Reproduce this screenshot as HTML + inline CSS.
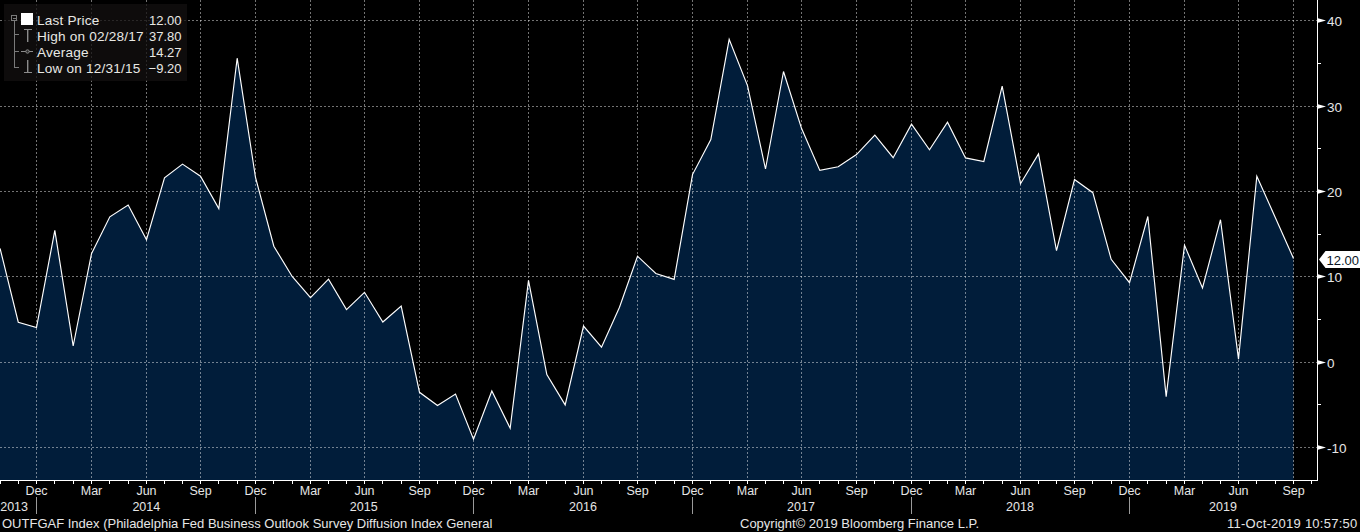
<!DOCTYPE html><html><head><meta charset="utf-8"><style>html,body{margin:0;padding:0;background:#000;width:1360px;height:532px;overflow:hidden}svg{display:block}text{font-family:"Liberation Sans",sans-serif}</style></head><body>
<svg width="1360" height="532" viewBox="0 0 1360 532">
<polygon points="-0.93,480 0.07,248.40 18.28,322.20 36.50,327.50 54.83,230.30 73.17,346.00 91.50,253.70 109.83,216.80 128.17,205.10 146.50,239.70 164.50,177.80 182.50,164.10 200.50,176.20 218.83,208.60 237.17,58.20 255.50,177.50 273.83,246.20 292.17,276.50 310.50,297.60 328.50,279.20 346.50,309.60 364.50,292.30 382.83,322.00 401.17,306.10 419.50,392.30 437.50,405.50 455.50,394.00 473.50,439.20 491.83,391.00 510.17,428.20 528.50,280.40 546.83,374.60 565.17,404.90 583.50,326.10 601.50,347.20 619.50,307.30 637.50,256.20 655.83,273.50 674.17,279.40 692.50,174.60 710.83,139.50 729.17,39.40 747.50,85.60 765.50,169.00 783.50,71.50 801.50,128.30 819.83,170.40 838.17,166.80 856.50,154.60 874.83,135.20 893.17,157.70 911.50,124.10 929.50,149.80 947.50,122.20 965.50,157.90 983.83,161.50 1002.17,86.20 1020.50,183.70 1038.50,153.90 1056.50,250.70 1074.50,179.50 1092.83,192.70 1111.17,259.30 1129.50,282.70 1147.83,216.50 1166.17,396.60 1184.50,245.10 1202.50,288.00 1220.50,219.70 1238.50,359.10 1256.83,176.20 1275.17,217.30 1293.50,258.40 1293.50,480" fill="#011d3a"/>
<line x1="0" y1="20.5" x2="1317" y2="20.5" stroke="#ffffff" stroke-opacity="0.45" stroke-width="1" stroke-dasharray="2,2" shape-rendering="crispEdges"/>
<line x1="0" y1="106.5" x2="1317" y2="106.5" stroke="#ffffff" stroke-opacity="0.45" stroke-width="1" stroke-dasharray="2,2" shape-rendering="crispEdges"/>
<line x1="0" y1="191.5" x2="1317" y2="191.5" stroke="#ffffff" stroke-opacity="0.45" stroke-width="1" stroke-dasharray="2,2" shape-rendering="crispEdges"/>
<line x1="0" y1="276.5" x2="1317" y2="276.5" stroke="#ffffff" stroke-opacity="0.45" stroke-width="1" stroke-dasharray="2,2" shape-rendering="crispEdges"/>
<line x1="0" y1="362.5" x2="1317" y2="362.5" stroke="#ffffff" stroke-opacity="0.45" stroke-width="1" stroke-dasharray="2,2" shape-rendering="crispEdges"/>
<line x1="0" y1="447.5" x2="1317" y2="447.5" stroke="#ffffff" stroke-opacity="0.45" stroke-width="1" stroke-dasharray="2,2" shape-rendering="crispEdges"/>
<line x1="36.5" y1="0" x2="36.5" y2="480" stroke="#ffffff" stroke-opacity="0.45" stroke-width="1" stroke-dasharray="2,2" shape-rendering="crispEdges"/>
<line x1="91.5" y1="0" x2="91.5" y2="480" stroke="#ffffff" stroke-opacity="0.45" stroke-width="1" stroke-dasharray="2,2" shape-rendering="crispEdges"/>
<line x1="146.5" y1="0" x2="146.5" y2="480" stroke="#ffffff" stroke-opacity="0.45" stroke-width="1" stroke-dasharray="2,2" shape-rendering="crispEdges"/>
<line x1="200.5" y1="0" x2="200.5" y2="480" stroke="#ffffff" stroke-opacity="0.45" stroke-width="1" stroke-dasharray="2,2" shape-rendering="crispEdges"/>
<line x1="255.5" y1="0" x2="255.5" y2="480" stroke="#ffffff" stroke-opacity="0.45" stroke-width="1" stroke-dasharray="2,2" shape-rendering="crispEdges"/>
<line x1="310.5" y1="0" x2="310.5" y2="480" stroke="#ffffff" stroke-opacity="0.45" stroke-width="1" stroke-dasharray="2,2" shape-rendering="crispEdges"/>
<line x1="364.5" y1="0" x2="364.5" y2="480" stroke="#ffffff" stroke-opacity="0.45" stroke-width="1" stroke-dasharray="2,2" shape-rendering="crispEdges"/>
<line x1="419.5" y1="0" x2="419.5" y2="480" stroke="#ffffff" stroke-opacity="0.45" stroke-width="1" stroke-dasharray="2,2" shape-rendering="crispEdges"/>
<line x1="473.5" y1="0" x2="473.5" y2="480" stroke="#ffffff" stroke-opacity="0.45" stroke-width="1" stroke-dasharray="2,2" shape-rendering="crispEdges"/>
<line x1="528.5" y1="0" x2="528.5" y2="480" stroke="#ffffff" stroke-opacity="0.45" stroke-width="1" stroke-dasharray="2,2" shape-rendering="crispEdges"/>
<line x1="583.5" y1="0" x2="583.5" y2="480" stroke="#ffffff" stroke-opacity="0.45" stroke-width="1" stroke-dasharray="2,2" shape-rendering="crispEdges"/>
<line x1="637.5" y1="0" x2="637.5" y2="480" stroke="#ffffff" stroke-opacity="0.45" stroke-width="1" stroke-dasharray="2,2" shape-rendering="crispEdges"/>
<line x1="692.5" y1="0" x2="692.5" y2="480" stroke="#ffffff" stroke-opacity="0.45" stroke-width="1" stroke-dasharray="2,2" shape-rendering="crispEdges"/>
<line x1="747.5" y1="0" x2="747.5" y2="480" stroke="#ffffff" stroke-opacity="0.45" stroke-width="1" stroke-dasharray="2,2" shape-rendering="crispEdges"/>
<line x1="801.5" y1="0" x2="801.5" y2="480" stroke="#ffffff" stroke-opacity="0.45" stroke-width="1" stroke-dasharray="2,2" shape-rendering="crispEdges"/>
<line x1="856.5" y1="0" x2="856.5" y2="480" stroke="#ffffff" stroke-opacity="0.45" stroke-width="1" stroke-dasharray="2,2" shape-rendering="crispEdges"/>
<line x1="911.5" y1="0" x2="911.5" y2="480" stroke="#ffffff" stroke-opacity="0.45" stroke-width="1" stroke-dasharray="2,2" shape-rendering="crispEdges"/>
<line x1="965.5" y1="0" x2="965.5" y2="480" stroke="#ffffff" stroke-opacity="0.45" stroke-width="1" stroke-dasharray="2,2" shape-rendering="crispEdges"/>
<line x1="1020.5" y1="0" x2="1020.5" y2="480" stroke="#ffffff" stroke-opacity="0.45" stroke-width="1" stroke-dasharray="2,2" shape-rendering="crispEdges"/>
<line x1="1074.5" y1="0" x2="1074.5" y2="480" stroke="#ffffff" stroke-opacity="0.45" stroke-width="1" stroke-dasharray="2,2" shape-rendering="crispEdges"/>
<line x1="1129.5" y1="0" x2="1129.5" y2="480" stroke="#ffffff" stroke-opacity="0.45" stroke-width="1" stroke-dasharray="2,2" shape-rendering="crispEdges"/>
<line x1="1184.5" y1="0" x2="1184.5" y2="480" stroke="#ffffff" stroke-opacity="0.45" stroke-width="1" stroke-dasharray="2,2" shape-rendering="crispEdges"/>
<line x1="1238.5" y1="0" x2="1238.5" y2="480" stroke="#ffffff" stroke-opacity="0.45" stroke-width="1" stroke-dasharray="2,2" shape-rendering="crispEdges"/>
<line x1="1293.5" y1="0" x2="1293.5" y2="480" stroke="#ffffff" stroke-opacity="0.45" stroke-width="1" stroke-dasharray="2,2" shape-rendering="crispEdges"/>
<polyline points="0.07,248.40 18.28,322.20 36.50,327.50 54.83,230.30 73.17,346.00 91.50,253.70 109.83,216.80 128.17,205.10 146.50,239.70 164.50,177.80 182.50,164.10 200.50,176.20 218.83,208.60 237.17,58.20 255.50,177.50 273.83,246.20 292.17,276.50 310.50,297.60 328.50,279.20 346.50,309.60 364.50,292.30 382.83,322.00 401.17,306.10 419.50,392.30 437.50,405.50 455.50,394.00 473.50,439.20 491.83,391.00 510.17,428.20 528.50,280.40 546.83,374.60 565.17,404.90 583.50,326.10 601.50,347.20 619.50,307.30 637.50,256.20 655.83,273.50 674.17,279.40 692.50,174.60 710.83,139.50 729.17,39.40 747.50,85.60 765.50,169.00 783.50,71.50 801.50,128.30 819.83,170.40 838.17,166.80 856.50,154.60 874.83,135.20 893.17,157.70 911.50,124.10 929.50,149.80 947.50,122.20 965.50,157.90 983.83,161.50 1002.17,86.20 1020.50,183.70 1038.50,153.90 1056.50,250.70 1074.50,179.50 1092.83,192.70 1111.17,259.30 1129.50,282.70 1147.83,216.50 1166.17,396.60 1184.50,245.10 1202.50,288.00 1220.50,219.70 1238.50,359.10 1256.83,176.20 1275.17,217.30 1293.50,258.40" fill="none" stroke="#ffffff" stroke-width="1.15" stroke-linejoin="miter"/>
<line x1="0" y1="480.5" x2="1318" y2="480.5" stroke="#fff" stroke-width="1" shape-rendering="crispEdges"/>
<line x1="1317.5" y1="0" x2="1317.5" y2="481" stroke="#fff" stroke-width="1" shape-rendering="crispEdges"/>
<line x1="0.5" y1="481" x2="0.5" y2="484" stroke="#fff" stroke-width="1" shape-rendering="crispEdges"/>
<line x1="18.5" y1="481" x2="18.5" y2="484" stroke="#fff" stroke-width="1" shape-rendering="crispEdges"/>
<line x1="36.5" y1="481" x2="36.5" y2="484" stroke="#fff" stroke-width="1" shape-rendering="crispEdges"/>
<line x1="54.5" y1="481" x2="54.5" y2="484" stroke="#fff" stroke-width="1" shape-rendering="crispEdges"/>
<line x1="73.5" y1="481" x2="73.5" y2="484" stroke="#fff" stroke-width="1" shape-rendering="crispEdges"/>
<line x1="91.5" y1="481" x2="91.5" y2="484" stroke="#fff" stroke-width="1" shape-rendering="crispEdges"/>
<line x1="109.5" y1="481" x2="109.5" y2="484" stroke="#fff" stroke-width="1" shape-rendering="crispEdges"/>
<line x1="128.5" y1="481" x2="128.5" y2="484" stroke="#fff" stroke-width="1" shape-rendering="crispEdges"/>
<line x1="146.5" y1="481" x2="146.5" y2="484" stroke="#fff" stroke-width="1" shape-rendering="crispEdges"/>
<line x1="164.5" y1="481" x2="164.5" y2="484" stroke="#fff" stroke-width="1" shape-rendering="crispEdges"/>
<line x1="182.5" y1="481" x2="182.5" y2="484" stroke="#fff" stroke-width="1" shape-rendering="crispEdges"/>
<line x1="200.5" y1="481" x2="200.5" y2="484" stroke="#fff" stroke-width="1" shape-rendering="crispEdges"/>
<line x1="218.5" y1="481" x2="218.5" y2="484" stroke="#fff" stroke-width="1" shape-rendering="crispEdges"/>
<line x1="237.5" y1="481" x2="237.5" y2="484" stroke="#fff" stroke-width="1" shape-rendering="crispEdges"/>
<line x1="255.5" y1="481" x2="255.5" y2="484" stroke="#fff" stroke-width="1" shape-rendering="crispEdges"/>
<line x1="273.5" y1="481" x2="273.5" y2="484" stroke="#fff" stroke-width="1" shape-rendering="crispEdges"/>
<line x1="292.5" y1="481" x2="292.5" y2="484" stroke="#fff" stroke-width="1" shape-rendering="crispEdges"/>
<line x1="310.5" y1="481" x2="310.5" y2="484" stroke="#fff" stroke-width="1" shape-rendering="crispEdges"/>
<line x1="328.5" y1="481" x2="328.5" y2="484" stroke="#fff" stroke-width="1" shape-rendering="crispEdges"/>
<line x1="346.5" y1="481" x2="346.5" y2="484" stroke="#fff" stroke-width="1" shape-rendering="crispEdges"/>
<line x1="364.5" y1="481" x2="364.5" y2="484" stroke="#fff" stroke-width="1" shape-rendering="crispEdges"/>
<line x1="382.5" y1="481" x2="382.5" y2="484" stroke="#fff" stroke-width="1" shape-rendering="crispEdges"/>
<line x1="401.5" y1="481" x2="401.5" y2="484" stroke="#fff" stroke-width="1" shape-rendering="crispEdges"/>
<line x1="419.5" y1="481" x2="419.5" y2="484" stroke="#fff" stroke-width="1" shape-rendering="crispEdges"/>
<line x1="437.5" y1="481" x2="437.5" y2="484" stroke="#fff" stroke-width="1" shape-rendering="crispEdges"/>
<line x1="455.5" y1="481" x2="455.5" y2="484" stroke="#fff" stroke-width="1" shape-rendering="crispEdges"/>
<line x1="473.5" y1="481" x2="473.5" y2="484" stroke="#fff" stroke-width="1" shape-rendering="crispEdges"/>
<line x1="491.5" y1="481" x2="491.5" y2="484" stroke="#fff" stroke-width="1" shape-rendering="crispEdges"/>
<line x1="510.5" y1="481" x2="510.5" y2="484" stroke="#fff" stroke-width="1" shape-rendering="crispEdges"/>
<line x1="528.5" y1="481" x2="528.5" y2="484" stroke="#fff" stroke-width="1" shape-rendering="crispEdges"/>
<line x1="546.5" y1="481" x2="546.5" y2="484" stroke="#fff" stroke-width="1" shape-rendering="crispEdges"/>
<line x1="565.5" y1="481" x2="565.5" y2="484" stroke="#fff" stroke-width="1" shape-rendering="crispEdges"/>
<line x1="583.5" y1="481" x2="583.5" y2="484" stroke="#fff" stroke-width="1" shape-rendering="crispEdges"/>
<line x1="601.5" y1="481" x2="601.5" y2="484" stroke="#fff" stroke-width="1" shape-rendering="crispEdges"/>
<line x1="619.5" y1="481" x2="619.5" y2="484" stroke="#fff" stroke-width="1" shape-rendering="crispEdges"/>
<line x1="637.5" y1="481" x2="637.5" y2="484" stroke="#fff" stroke-width="1" shape-rendering="crispEdges"/>
<line x1="655.5" y1="481" x2="655.5" y2="484" stroke="#fff" stroke-width="1" shape-rendering="crispEdges"/>
<line x1="674.5" y1="481" x2="674.5" y2="484" stroke="#fff" stroke-width="1" shape-rendering="crispEdges"/>
<line x1="692.5" y1="481" x2="692.5" y2="484" stroke="#fff" stroke-width="1" shape-rendering="crispEdges"/>
<line x1="710.5" y1="481" x2="710.5" y2="484" stroke="#fff" stroke-width="1" shape-rendering="crispEdges"/>
<line x1="729.5" y1="481" x2="729.5" y2="484" stroke="#fff" stroke-width="1" shape-rendering="crispEdges"/>
<line x1="747.5" y1="481" x2="747.5" y2="484" stroke="#fff" stroke-width="1" shape-rendering="crispEdges"/>
<line x1="765.5" y1="481" x2="765.5" y2="484" stroke="#fff" stroke-width="1" shape-rendering="crispEdges"/>
<line x1="783.5" y1="481" x2="783.5" y2="484" stroke="#fff" stroke-width="1" shape-rendering="crispEdges"/>
<line x1="801.5" y1="481" x2="801.5" y2="484" stroke="#fff" stroke-width="1" shape-rendering="crispEdges"/>
<line x1="819.5" y1="481" x2="819.5" y2="484" stroke="#fff" stroke-width="1" shape-rendering="crispEdges"/>
<line x1="838.5" y1="481" x2="838.5" y2="484" stroke="#fff" stroke-width="1" shape-rendering="crispEdges"/>
<line x1="856.5" y1="481" x2="856.5" y2="484" stroke="#fff" stroke-width="1" shape-rendering="crispEdges"/>
<line x1="874.5" y1="481" x2="874.5" y2="484" stroke="#fff" stroke-width="1" shape-rendering="crispEdges"/>
<line x1="893.5" y1="481" x2="893.5" y2="484" stroke="#fff" stroke-width="1" shape-rendering="crispEdges"/>
<line x1="911.5" y1="481" x2="911.5" y2="484" stroke="#fff" stroke-width="1" shape-rendering="crispEdges"/>
<line x1="929.5" y1="481" x2="929.5" y2="484" stroke="#fff" stroke-width="1" shape-rendering="crispEdges"/>
<line x1="947.5" y1="481" x2="947.5" y2="484" stroke="#fff" stroke-width="1" shape-rendering="crispEdges"/>
<line x1="965.5" y1="481" x2="965.5" y2="484" stroke="#fff" stroke-width="1" shape-rendering="crispEdges"/>
<line x1="983.5" y1="481" x2="983.5" y2="484" stroke="#fff" stroke-width="1" shape-rendering="crispEdges"/>
<line x1="1002.5" y1="481" x2="1002.5" y2="484" stroke="#fff" stroke-width="1" shape-rendering="crispEdges"/>
<line x1="1020.5" y1="481" x2="1020.5" y2="484" stroke="#fff" stroke-width="1" shape-rendering="crispEdges"/>
<line x1="1038.5" y1="481" x2="1038.5" y2="484" stroke="#fff" stroke-width="1" shape-rendering="crispEdges"/>
<line x1="1056.5" y1="481" x2="1056.5" y2="484" stroke="#fff" stroke-width="1" shape-rendering="crispEdges"/>
<line x1="1074.5" y1="481" x2="1074.5" y2="484" stroke="#fff" stroke-width="1" shape-rendering="crispEdges"/>
<line x1="1092.5" y1="481" x2="1092.5" y2="484" stroke="#fff" stroke-width="1" shape-rendering="crispEdges"/>
<line x1="1111.5" y1="481" x2="1111.5" y2="484" stroke="#fff" stroke-width="1" shape-rendering="crispEdges"/>
<line x1="1129.5" y1="481" x2="1129.5" y2="484" stroke="#fff" stroke-width="1" shape-rendering="crispEdges"/>
<line x1="1147.5" y1="481" x2="1147.5" y2="484" stroke="#fff" stroke-width="1" shape-rendering="crispEdges"/>
<line x1="1166.5" y1="481" x2="1166.5" y2="484" stroke="#fff" stroke-width="1" shape-rendering="crispEdges"/>
<line x1="1184.5" y1="481" x2="1184.5" y2="484" stroke="#fff" stroke-width="1" shape-rendering="crispEdges"/>
<line x1="1202.5" y1="481" x2="1202.5" y2="484" stroke="#fff" stroke-width="1" shape-rendering="crispEdges"/>
<line x1="1220.5" y1="481" x2="1220.5" y2="484" stroke="#fff" stroke-width="1" shape-rendering="crispEdges"/>
<line x1="1238.5" y1="481" x2="1238.5" y2="484" stroke="#fff" stroke-width="1" shape-rendering="crispEdges"/>
<line x1="1256.5" y1="481" x2="1256.5" y2="484" stroke="#fff" stroke-width="1" shape-rendering="crispEdges"/>
<line x1="1275.5" y1="481" x2="1275.5" y2="484" stroke="#fff" stroke-width="1" shape-rendering="crispEdges"/>
<line x1="1293.5" y1="481" x2="1293.5" y2="484" stroke="#fff" stroke-width="1" shape-rendering="crispEdges"/>
<line x1="1311.5" y1="481" x2="1311.5" y2="484" stroke="#fff" stroke-width="1" shape-rendering="crispEdges"/>
<polygon points="1317,17.9 1326,20.5 1317,23.1" fill="#fff"/>
<text x="1327" y="25.9" font-size="13.5" fill="#e6e6e6">40</text>
<polygon points="1317,103.9 1326,106.5 1317,109.1" fill="#fff"/>
<text x="1327" y="111.9" font-size="13.5" fill="#e6e6e6">30</text>
<polygon points="1317,188.9 1326,191.5 1317,194.1" fill="#fff"/>
<text x="1327" y="196.9" font-size="13.5" fill="#e6e6e6">20</text>
<polygon points="1317,273.9 1326,276.5 1317,279.1" fill="#fff"/>
<text x="1327" y="281.9" font-size="13.5" fill="#e6e6e6">10</text>
<polygon points="1317,359.9 1326,362.5 1317,365.1" fill="#fff"/>
<text x="1327" y="367.9" font-size="13.5" fill="#e6e6e6">0</text>
<polygon points="1317,444.9 1326,447.5 1317,450.1" fill="#fff"/>
<text x="1327" y="452.9" font-size="13.5" fill="#e6e6e6">-10</text>
<line x1="1318" y1="63.5" x2="1321" y2="63.5" stroke="#fff" stroke-width="1" shape-rendering="crispEdges"/>
<line x1="1318" y1="148.5" x2="1321" y2="148.5" stroke="#fff" stroke-width="1" shape-rendering="crispEdges"/>
<line x1="1318" y1="234.5" x2="1321" y2="234.5" stroke="#fff" stroke-width="1" shape-rendering="crispEdges"/>
<line x1="1318" y1="319.5" x2="1321" y2="319.5" stroke="#fff" stroke-width="1" shape-rendering="crispEdges"/>
<line x1="1318" y1="404.5" x2="1321" y2="404.5" stroke="#fff" stroke-width="1" shape-rendering="crispEdges"/>
<polygon points="1319,259.5 1325.5,251 1360,251 1360,268 1325.5,268" fill="#fff"/>
<text x="1326.5" y="265" font-size="13" fill="#0a1626">12.00</text>
<text x="36.5" y="494.8" font-size="12.5" fill="#e6e6e6" text-anchor="middle">Dec</text>
<text x="91.5" y="494.8" font-size="12.5" fill="#e6e6e6" text-anchor="middle">Mar</text>
<text x="146.5" y="494.8" font-size="12.5" fill="#e6e6e6" text-anchor="middle">Jun</text>
<text x="200.5" y="494.8" font-size="12.5" fill="#e6e6e6" text-anchor="middle">Sep</text>
<text x="255.5" y="494.8" font-size="12.5" fill="#e6e6e6" text-anchor="middle">Dec</text>
<text x="310.5" y="494.8" font-size="12.5" fill="#e6e6e6" text-anchor="middle">Mar</text>
<text x="364.5" y="494.8" font-size="12.5" fill="#e6e6e6" text-anchor="middle">Jun</text>
<text x="419.5" y="494.8" font-size="12.5" fill="#e6e6e6" text-anchor="middle">Sep</text>
<text x="473.5" y="494.8" font-size="12.5" fill="#e6e6e6" text-anchor="middle">Dec</text>
<text x="528.5" y="494.8" font-size="12.5" fill="#e6e6e6" text-anchor="middle">Mar</text>
<text x="583.5" y="494.8" font-size="12.5" fill="#e6e6e6" text-anchor="middle">Jun</text>
<text x="637.5" y="494.8" font-size="12.5" fill="#e6e6e6" text-anchor="middle">Sep</text>
<text x="692.5" y="494.8" font-size="12.5" fill="#e6e6e6" text-anchor="middle">Dec</text>
<text x="747.5" y="494.8" font-size="12.5" fill="#e6e6e6" text-anchor="middle">Mar</text>
<text x="801.5" y="494.8" font-size="12.5" fill="#e6e6e6" text-anchor="middle">Jun</text>
<text x="856.5" y="494.8" font-size="12.5" fill="#e6e6e6" text-anchor="middle">Sep</text>
<text x="911.5" y="494.8" font-size="12.5" fill="#e6e6e6" text-anchor="middle">Dec</text>
<text x="965.5" y="494.8" font-size="12.5" fill="#e6e6e6" text-anchor="middle">Mar</text>
<text x="1020.5" y="494.8" font-size="12.5" fill="#e6e6e6" text-anchor="middle">Jun</text>
<text x="1074.5" y="494.8" font-size="12.5" fill="#e6e6e6" text-anchor="middle">Sep</text>
<text x="1129.5" y="494.8" font-size="12.5" fill="#e6e6e6" text-anchor="middle">Dec</text>
<text x="1184.5" y="494.8" font-size="12.5" fill="#e6e6e6" text-anchor="middle">Mar</text>
<text x="1238.5" y="494.8" font-size="12.5" fill="#e6e6e6" text-anchor="middle">Jun</text>
<text x="1293.5" y="494.8" font-size="12.5" fill="#e6e6e6" text-anchor="middle">Sep</text>
<text x="14.1" y="510.7" font-size="12.5" fill="#e6e6e6" text-anchor="middle">2013</text>
<text x="146.3" y="510.7" font-size="12.5" fill="#e6e6e6" text-anchor="middle">2014</text>
<text x="363.7" y="510.7" font-size="12.5" fill="#e6e6e6" text-anchor="middle">2015</text>
<text x="583.0" y="510.7" font-size="12.5" fill="#e6e6e6" text-anchor="middle">2016</text>
<text x="801.0" y="510.7" font-size="12.5" fill="#e6e6e6" text-anchor="middle">2017</text>
<text x="1020.0" y="510.7" font-size="12.5" fill="#e6e6e6" text-anchor="middle">2018</text>
<text x="1223.0" y="510.7" font-size="12.5" fill="#e6e6e6" text-anchor="middle">2019</text>
<line x1="36.5" y1="497" x2="36.5" y2="514" stroke="#9a9a9a" stroke-width="1" shape-rendering="crispEdges"/>
<line x1="255.5" y1="497" x2="255.5" y2="514" stroke="#9a9a9a" stroke-width="1" shape-rendering="crispEdges"/>
<line x1="473.5" y1="497" x2="473.5" y2="514" stroke="#9a9a9a" stroke-width="1" shape-rendering="crispEdges"/>
<line x1="692.5" y1="497" x2="692.5" y2="514" stroke="#9a9a9a" stroke-width="1" shape-rendering="crispEdges"/>
<line x1="911.5" y1="497" x2="911.5" y2="514" stroke="#9a9a9a" stroke-width="1" shape-rendering="crispEdges"/>
<line x1="1129.5" y1="497" x2="1129.5" y2="514" stroke="#9a9a9a" stroke-width="1" shape-rendering="crispEdges"/>
<text x="2" y="527.7" font-size="13" fill="#e6e6e6">OUTFGAF Index (Philadelphia Fed Business Outlook Survey Diffusion Index General</text>
<text x="740" y="527.7" font-size="13" fill="#e6e6e6">Copyright© 2019 Bloomberg Finance L.P.</text>
<text x="1357.5" y="527.7" font-size="13" letter-spacing="0.25" fill="#e6e6e6" text-anchor="end">11-Oct-2019 10:57:50</text>
<rect x="4" y="4" width="183" height="77" fill="rgba(18,16,16,0.76)"/>
<g shape-rendering="crispEdges">
<rect x="11.5" y="15.5" width="5" height="5" fill="none" stroke="#7a7a7a" stroke-width="1"/>
<line x1="13" y1="18.5" x2="16" y2="18.5" stroke="#7a7a7a" stroke-width="1"/>
<line x1="14.5" y1="21" x2="14.5" y2="68" stroke="#7a7a7a" stroke-width="1"/>
<line x1="14" y1="34.5" x2="19" y2="34.5" stroke="#7a7a7a" stroke-width="1"/>
<line x1="14" y1="51.5" x2="19" y2="51.5" stroke="#7a7a7a" stroke-width="1"/>
<line x1="14" y1="67.5" x2="19" y2="67.5" stroke="#7a7a7a" stroke-width="1"/>
<rect x="21" y="13" width="12" height="12" fill="#fff"/>
<line x1="24" y1="29.5" x2="32" y2="29.5" stroke="#8c8c8c" stroke-width="1"/>
<line x1="27.5" y1="29" x2="27.5" y2="42" stroke="#8c8c8c" stroke-width="1"/>
<line x1="28.5" y1="29" x2="28.5" y2="42" stroke="#8c8c8c" stroke-opacity="0.4" stroke-width="1"/>
<line x1="21" y1="51.5" x2="33" y2="51.5" stroke="#8c8c8c" stroke-width="1"/>
<line x1="27.5" y1="60" x2="27.5" y2="73" stroke="#8c8c8c" stroke-width="1"/>
<line x1="28.5" y1="60" x2="28.5" y2="73" stroke="#8c8c8c" stroke-opacity="0.4" stroke-width="1"/>
<line x1="24" y1="72.5" x2="32" y2="72.5" stroke="#8c8c8c" stroke-width="1"/>
</g>
<circle cx="27.5" cy="51.5" r="1.7" fill="#2a2a2a" stroke="#8c8c8c" stroke-width="1"/>
<text x="37" y="24.8" font-size="13.6" letter-spacing="0.2" fill="#e8e8e4">Last Price</text>
<text x="181.5" y="24.8" font-size="13" fill="#e8e8e4" text-anchor="end">12.00</text>
<text x="37" y="40.7" font-size="13.6" letter-spacing="0.2" fill="#e8e8e4">High on 02/28/17</text>
<text x="181.5" y="40.7" font-size="13" fill="#e8e8e4" text-anchor="end">37.80</text>
<text x="37" y="56.7" font-size="13.6" letter-spacing="0.2" fill="#e8e8e4">Average</text>
<text x="181.5" y="56.7" font-size="13" fill="#e8e8e4" text-anchor="end">14.27</text>
<text x="37" y="72.7" font-size="13.6" letter-spacing="0.2" fill="#e8e8e4">Low on 12/31/15</text>
<text x="181.5" y="72.7" font-size="13" fill="#e8e8e4" text-anchor="end">−9.20</text>
</svg></body></html>
